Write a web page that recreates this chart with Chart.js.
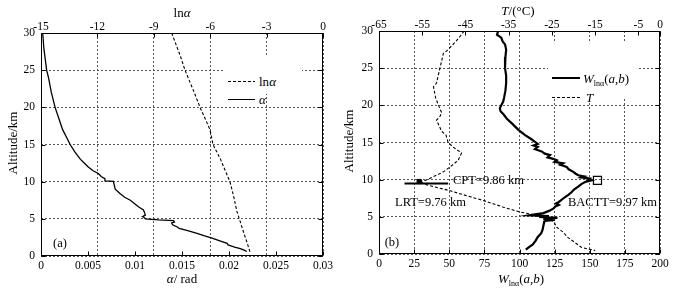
<!DOCTYPE html>
<html>
<head>
<meta charset="utf-8">
<script src="https://cdn.jsdelivr.net/npm/chart.js@4.4.0/dist/chart.umd.min.js"></script>
<style>
body { margin: 0; background: #fff; }
#wrap { position: relative; width: 675px; height: 289px; overflow: hidden; font-family: 'Liberation Serif', 'Times New Roman', serif; color: #000; background: #fff; }
canvas { position: absolute; top: 0; }
.t { position: absolute; white-space: nowrap; line-height: 1; transform: translate(-50%, -50%); }
.l { position: absolute; white-space: nowrap; line-height: 1; transform: translateY(-50%); }
.rot { transform: translate(-50%, -50%) rotate(-90deg); }
.box { position: absolute; background: #fff; }
.solid { position: absolute; background: #000; }
.dash { position: absolute; height: 1px; background: repeating-linear-gradient(90deg, #000 0 3px, transparent 3px 5px); }
sub { font-size: 8px; vertical-align: baseline; position: relative; top: 3px; }
</style>
</head>
<body>
<div id="wrap">
  <canvas id="chartA" width="337" height="289" style="left:0"></canvas>
  <canvas id="chartB" width="338" height="289" style="left:337px"></canvas>

  <div class="t" style="left:182px;top:12px;font-size:13px">ln<i>α</i></div>
  <div class="t" style="left:182px;top:278px;font-size:13px"><i>α</i>/ rad</div>
  <div class="t rot" style="left:12px;top:143px;font-size:13px">Altitude/km</div>
  <div class="t" style="left:60px;top:243px;font-size:12.5px">(a)</div>

  <div class="box" style="left:223px;top:56px;width:79px;height:38px"></div>
  <div class="dash" style="left:228px;top:81px;width:27px"></div>
  <div class="l" style="left:259px;top:81px;font-size:13px">ln<i>α</i></div>
  <div class="solid" style="left:228px;top:99px;width:27px;height:1.3px"></div>
  <div class="l" style="left:259px;top:99px;font-size:13px"><i>α</i></div>

  <div class="t" style="left:518px;top:10px;font-size:13px"><i>T</i>/(°C)</div>
  <div class="t" style="left:521px;top:278px;font-size:13px"><i>W</i><sub>lnα</sub>(<i>a</i>,<i>b</i>)</div>
  <div class="t rot" style="left:348px;top:141px;font-size:13px">Altitude/km</div>
  <div class="t" style="left:392px;top:242px;font-size:12.5px">(b)</div>
  <div class="l" style="left:453px;top:180px;font-size:12.5px">CPT=9.86 km</div>
  <div class="l" style="left:395px;top:202px;font-size:12.5px">LRT=9.76 km</div>
  <div class="l" style="left:568px;top:202px;font-size:12.5px">BACTT=9.97 km</div>

  <div class="box" style="left:548px;top:41px;width:89px;height:58px"></div>
  <div class="solid" style="left:552px;top:77px;width:28px;height:2px"></div>
  <div class="l" style="left:583px;top:78px;font-size:13px"><i>W</i><sub>lnα</sub>(<i>a</i>,<i>b</i>)</div>
  <div class="dash" style="left:552px;top:97px;width:28px"></div>
  <div class="l" style="left:586px;top:97px;font-size:13px"><i>T</i></div>
</div>
<script>
// panel (a)
const altAlpha = [30, 28, 26, 25, 24, 22, 20, 18.5, 17, 16, 15, 14, 13, 12.5, 12, 11.5, 11.1, 10.7, 10.4, 10.1, 10.05, 9.5, 9.0, 8.4, 7.9, 7.5, 7.0, 6.6, 6.2, 5.9, 5.5, 5.3, 5.15, 5.0, 4.85, 4.75, 4.55, 4.45, 4.2, 3.9, 3.7, 3.4, 3.05, 2.7, 2.4, 2.0, 1.7, 1.5, 1.2, 1.0, 0.8, 0.6];
const alphaVals = [0.00018, 0.0003, 0.0005, 0.0006, 0.0008, 0.0011, 0.0015, 0.0019, 0.0023, 0.0027, 0.0031, 0.0036, 0.0042, 0.0046, 0.0050, 0.0055, 0.0061, 0.0064, 0.0068, 0.0068, 0.0077, 0.0078, 0.0079, 0.0084, 0.0089, 0.0095, 0.0100, 0.0104, 0.0109, 0.0110, 0.0111, 0.0108, 0.0110, 0.0111, 0.0125, 0.0141, 0.0142, 0.0139, 0.0140, 0.0145, 0.0147, 0.0156, 0.0166, 0.0174, 0.0182, 0.0191, 0.0198, 0.0199, 0.0206, 0.0212, 0.0216, 0.0219];
const altLnAlpha = [30, 27, 25, 22, 20, 17, 15, 13, 11, 10, 8, 6, 5, 3, 1.5, 0.5];
const lnAlphaVals = [-8.05, -7.6, -7.34, -6.85, -6.54, -6.01, -5.85, -5.45, -5.12, -4.95, -4.75, -4.58, -4.45, -4.2, -4.0, -3.88];

// panel (b)
const altW = [30, 29.5, 29.1, 28.6, 28.2, 27.5, 26.5, 25, 24, 23, 22, 21, 20.5, 20, 19.6, 19.2, 18.8, 18.2, 17.4, 16.7, 16, 15.5, 15.1, 14.8, 14.6, 14.4, 14.1, 13.8, 13.5, 13.3, 13.0, 12.8, 12.6, 12.4, 12.2, 12.0, 11.7, 11.4, 11.05, 10.8, 10.6, 10.45, 10.3, 10.15, 10.0, 9.9, 9.7, 9.4, 9.1, 8.7, 8.3, 8.0, 7.6, 7.3, 7.0, 6.8, 6.6, 6.4, 6.1, 5.8, 5.5, 5.3, 5.2, 5.1, 5.0, 4.85, 4.7, 4.6, 4.45, 4.2, 3.8, 3.3, 2.8, 2.3, 1.8, 1.3, 0.9, 0.6];
const wVals = [84.8, 84, 87, 88, 89.7, 90.5, 90, 89.7, 90.5, 90.5, 90, 89, 88.4, 87, 86, 86.5, 88.6, 91, 95.5, 99.2, 104, 108, 111, 113, 110, 113, 111, 115.8, 118, 121.7, 120, 124, 126.5, 125, 131, 129, 133.6, 135, 138.3, 140, 141.8, 146, 144, 150, 149, 151, 147, 144, 142, 139, 137, 135, 132, 130, 128, 126, 128, 125.5, 124, 121, 117, 110, 107, 121, 114, 127, 117, 125, 118, 117.5, 117, 116.5, 115.5, 113, 111.5, 109.5, 106.5, 104.5];
const altT = [30, 29, 28, 27.3, 27, 25, 23, 22.5, 21, 20.1, 19, 18.5, 18, 17.4, 16.5, 16, 15, 14.4, 13.6, 12.6, 11.7, 11.05, 10.4, 9.9, 9.73, 9.26, 8.5, 7.7, 7.2, 6.3, 5.65, 5.4, 4.76, 4.3, 3.6, 2.9, 2.3, 1.6, 0.9, 0.45];
const tVals = [-45.3, -46.6, -48.2, -49.4, -50.1, -50.9, -51.7, -52.4, -51.9, -51.3, -50.5, -50.9, -51.7, -51.2, -50.5, -49.5, -49.0, -47.9, -45.9, -46.7, -48.6, -50.1, -52.4, -54.3, -55.7, -53.7, -48.5, -43.9, -40.9, -36.2, -32.4, -30.1, -25.9, -24.5, -23.9, -22.3, -21.5, -19.8, -18.2, -15.0];
const bacttW = [155.5];
const bacttAlt = [9.9];
const cptT = [-55.7];
const cptAlt = [9.75];
const lrtT = [-59.1, -49.0];
const lrtAlt = [9.49, 9.49];

// ticks
const altTicks = [0, 5, 10, 15, 20, 25, 30];
const alphaTicks = [0, 0.005, 0.01, 0.015, 0.02, 0.025, 0.03];
const lnTicks = [-15, -12, -9, -6, -3, 0];
const wTicks = [0, 25, 50, 75, 100, 125, 150, 175, 200];
const tTicks = [-65, -55, -45, -35, -25, -15, -5, 0];

Chart.defaults.font.family = "'Liberation Serif', 'Times New Roman', serif";

const pairs = (xs, ys) => xs.map((x, i) => ({ x: x, y: ys[i] }));
const fixTicks = (list) => (scale) => { scale.ticks = list.map(v => ({ value: v })); };
const tickFont = { family: "'Liberation Serif', 'Times New Roman', serif", size: 11.5 };
const gridLine = { color: '#555', lineWidth: 1 };

// box round the plot and inward tick marks
const frame = {
    id: 'frame',
    afterDatasetsDraw(chart) {
        const { ctx, chartArea: a, scales } = chart;
        ctx.save();
        ctx.strokeStyle = '#000';
        ctx.lineWidth = 1;
        ctx.beginPath();
        const L = Math.round(a.left) + 0.5, R = Math.round(a.right) - 0.5;
        const T = Math.round(a.top) + 0.5, B = Math.round(a.bottom) - 0.5;
        scales.x.ticks.forEach(t => {
            const p = Math.round(scales.x.getPixelForValue(t.value)) + 0.5;
            ctx.moveTo(p, B); ctx.lineTo(p, B - 4);
        });
        scales.x2.ticks.forEach(t => {
            const p = Math.round(scales.x2.getPixelForValue(t.value)) + 0.5;
            ctx.moveTo(p, T); ctx.lineTo(p, T + 4);
        });
        scales.y.ticks.forEach(t => {
            const p = Math.round(scales.y.getPixelForValue(t.value)) + 0.5;
            ctx.moveTo(L, p); ctx.lineTo(L + 4, p);
            ctx.moveTo(R, p); ctx.lineTo(R - 4, p);
        });
        ctx.stroke();
        ctx.strokeRect(L, T, R - L, B - T);
        ctx.restore();
    }
};

function makeScales(o) {
    return {
        x: {
            type: 'linear', position: 'bottom', min: o.xMin, max: o.xMax,
            afterBuildTicks: fixTicks(o.xTicks),
            afterFit: s => { s.height = o.bottom; },
            ticks: { font: tickFont, color: '#000', padding: 3, maxRotation: 0, callback: v => String(v) },
            grid: { display: o.gridOn === 'x', drawTicks: false, ...gridLine },
            border: { display: false, dash: [2, 2] }
        },
        x2: {
            type: 'linear', position: 'top', min: o.x2Min, max: o.x2Max,
            afterBuildTicks: fixTicks(o.x2Ticks),
            afterFit: s => { s.height = o.top; },
            ticks: { font: tickFont, color: '#000', padding: -1, maxRotation: 0, callback: v => String(v) },
            grid: { display: o.gridOn === 'x2', drawTicks: false, ...gridLine },
            border: { display: false, dash: [2, 2] }
        },
        y: {
            type: 'linear', position: 'left', min: 0, max: 30,
            afterBuildTicks: fixTicks(altTicks),
            afterFit: s => { s.width = o.left; },
            ticks: { font: tickFont, color: '#000', padding: 6 },
            grid: { drawTicks: false, ...gridLine },
            border: { display: false, dash: [2, 2] }
        },
        y2: {
            type: 'linear', position: 'right', min: 0, max: 30,
            afterFit: s => { s.width = o.right; },
            ticks: { display: false },
            grid: { display: false, drawTicks: false },
            border: { display: false }
        }
    };
}

const baseOptions = (scales) => ({
    responsive: false,
    animation: false,
    layout: { padding: 0, autoPadding: false },
    plugins: { legend: { display: false }, tooltip: { enabled: false } },
    elements: { point: { radius: 0 }, line: { tension: 0 } },
    scales: scales
});

new Chart(document.getElementById('chartA').getContext('2d'), {
    type: 'scatter',
    data: {
        datasets: [{
            label: 'lnα',
            data: pairs(lnAlphaVals, altLnAlpha),
            xAxisID: 'x2', yAxisID: 'y',
            showLine: true,
            borderColor: '#000', borderWidth: 1.1, borderDash: [3, 2],
            pointRadius: 0
        }, {
            label: 'α',
            data: pairs(alphaVals, altAlpha),
            xAxisID: 'x', yAxisID: 'y',
            showLine: true,
            borderColor: '#000', borderWidth: 1.3,
            pointRadius: 0
        }]
    },
    options: baseOptions(makeScales({
        xMin: 0, xMax: 0.03, xTicks: alphaTicks,
        x2Min: -15, x2Max: 0, x2Ticks: lnTicks,
        gridOn: 'x2', left: 41, right: 14, top: 33, bottom: 33
    })),
    plugins: [frame]
});

new Chart(document.getElementById('chartB').getContext('2d'), {
    type: 'scatter',
    data: {
        datasets: [{
            label: 'T',
            data: pairs(tVals, altT),
            xAxisID: 'x2', yAxisID: 'y',
            showLine: true,
            borderColor: '#000', borderWidth: 1.1, borderDash: [3, 2],
            pointRadius: 0
        }, {
            label: 'LRT',
            data: pairs(lrtT, lrtAlt),
            xAxisID: 'x2', yAxisID: 'y',
            showLine: true,
            borderColor: '#000', borderWidth: 2,
            pointRadius: 0
        }, {
            label: 'CPT',
            data: pairs(cptT, cptAlt),
            xAxisID: 'x2', yAxisID: 'y',
            pointStyle: 'rect', pointRadius: 3,
            backgroundColor: '#000', borderColor: '#000', borderWidth: 1
        }, {
            label: 'W',
            data: pairs(wVals, altW),
            xAxisID: 'x', yAxisID: 'y',
            showLine: true,
            borderColor: '#000', borderWidth: 2.2,
            pointRadius: 0
        }, {
            label: 'BACTT',
            data: pairs(bacttW, bacttAlt),
            xAxisID: 'x', yAxisID: 'y',
            pointStyle: 'rect', pointRadius: 5.7,
            backgroundColor: 'rgba(0,0,0,0)', borderColor: '#000', borderWidth: 1.2
        }]
    },
    options: baseOptions(makeScales({
        xMin: 0, xMax: 200, xTicks: wTicks,
        x2Min: -65, x2Max: 0, x2Ticks: tTicks,
        gridOn: 'x', left: 42, right: 15, top: 31, bottom: 35
    })),
    plugins: [frame]
});
</script>
</body>
</html>
